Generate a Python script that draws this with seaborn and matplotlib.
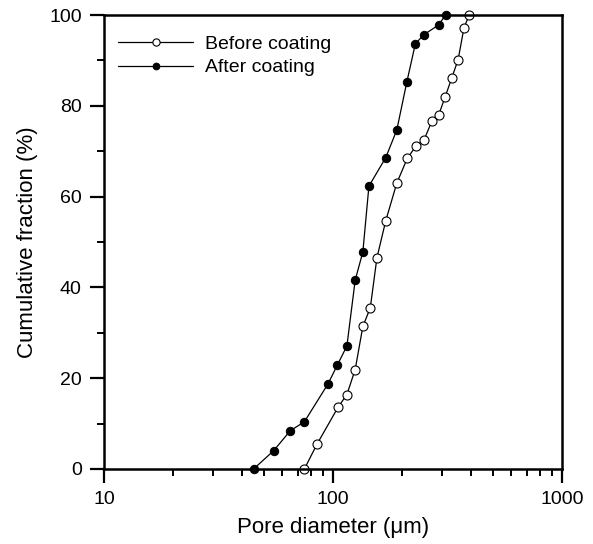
import numpy as np
import pandas as pd
import matplotlib
matplotlib.use("Agg")
import matplotlib.pyplot as plt
import seaborn as sns
from matplotlib.ticker import LogLocator, FixedLocator, NullFormatter

# Cumulative pore-size distribution of the sample before and after coating
before_diameter = [75, 85, 105.5, 115, 125, 135, 145.5, 155.5, 170, 190,
                   211, 230, 250, 270, 289, 309, 330, 352, 373, 393]
before_fraction = [0, 5.4, 13.7, 16.4, 21.9, 31.4, 35.5, 46.5, 54.7, 63.0,
                   68.4, 71.1, 72.5, 76.6, 77.9, 82.0, 86.1, 90.2, 97.1, 100]

after_diameter = [45, 55, 65, 75, 95, 104.5, 115, 125, 135, 143.5,
                  170, 190, 210, 229, 250, 289, 310]
after_fraction = [0, 4.0, 8.4, 10.4, 18.7, 22.9, 27.1, 41.6, 47.8, 62.3,
                  68.6, 74.7, 85.2, 93.7, 95.7, 97.8, 100]

x_ticks = [10, 100, 1000]
x_tick_labels = ["10", "100", "1000"]
y_ticks = [0, 20, 40, 60, 80, 100]

sns.set_theme(style="ticks")
plt.rcParams["font.family"] = ["Liberation Sans", "DejaVu Sans"]
plt.rcParams["text.color"] = "black"
plt.rcParams["axes.labelcolor"] = "black"
plt.rcParams["xtick.color"] = "black"
plt.rcParams["ytick.color"] = "black"

fig = plt.figure(figsize=(5.93, 5.44), dpi=100)
ax = fig.add_axes([0.1754, 0.1379, 0.9477 - 0.1754, 0.9724 - 0.1379])

sns.lineplot(x=before_diameter, y=before_fraction, ax=ax, sort=False,
             color="black", linewidth=0.9, marker="o", markersize=6.5,
             markerfacecolor="white", markeredgecolor="black",
             markeredgewidth=0.8, label="Before coating", clip_on=False)
sns.lineplot(x=after_diameter, y=after_fraction, ax=ax, sort=False,
             color="black", linewidth=0.9, marker="o", markersize=6,
             markerfacecolor="black", markeredgecolor="black",
             label="After coating", clip_on=False)

ax.set_xscale("log")
ax.set_xlim(10, 1000)
ax.set_ylim(0, 100)

ax.xaxis.set_major_locator(FixedLocator(x_ticks))
ax.set_xticklabels(x_tick_labels)
ax.xaxis.set_minor_locator(LogLocator(base=10, subs=np.arange(2, 10)))
ax.xaxis.set_minor_formatter(NullFormatter())
ax.yaxis.set_major_locator(FixedLocator(y_ticks))
ax.yaxis.set_minor_locator(FixedLocator([10, 30, 50, 70, 90]))

ax.tick_params(axis="both", which="major", direction="out", length=10,
               width=1.6, labelsize=14, labelcolor="black", color="black",
               pad=6)
ax.tick_params(axis="both", which="minor", direction="out", length=5,
               width=1.4, color="black")

for side in ["left", "bottom", "top", "right"]:
    ax.spines[side].set_linewidth(1.8)
    ax.spines[side].set_color("black")

ax.set_xlabel("Pore diameter (\u03bcm)", fontsize=16, labelpad=6)
ax.set_ylabel("Cumulative fraction (%)", fontsize=16, labelpad=8)

leg = ax.legend(loc="upper left", frameon=False, fontsize=14,
                handlelength=3.9, handletextpad=0.6, labelspacing=0.3,
                borderaxespad=0.3, markerscale=0.8,
                bbox_to_anchor=(0.0, 0.985))

fig.savefig("out.png", dpi=100)
